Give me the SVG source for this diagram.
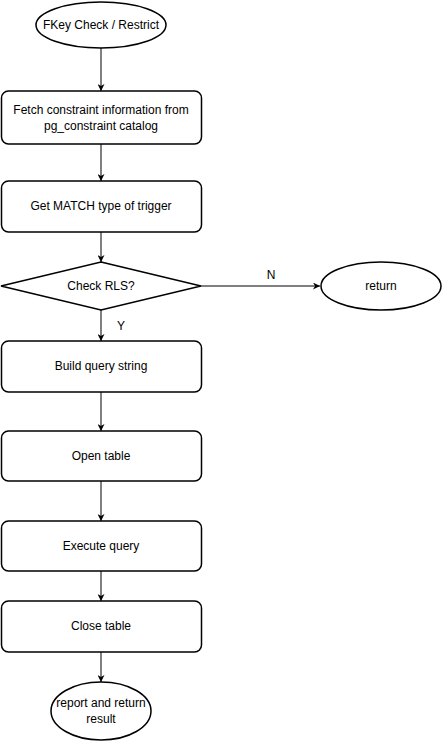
<svg xmlns="http://www.w3.org/2000/svg" width="442" height="742" viewBox="0 0 442 742">
<style>
.s{fill:#fff;stroke:#000;stroke-width:1.5}
.t{font-family:"Liberation Sans",Arial,sans-serif;font-size:12px;fill:#000;text-anchor:middle;dominant-baseline:central}
.c{fill:none;stroke:#000;stroke-width:1}
</style>
<defs>
<marker id="a" viewBox="0 0 10 10" refX="10" refY="5" markerWidth="7" markerHeight="7" markerUnits="userSpaceOnUse" orient="auto">
<path d="M0,0 L10,5 L0,10 L3,5 Z" fill="#000"/>
</marker>
</defs>
<rect width="442" height="742" fill="#fff"/>
<g id="connectors">
<line class="c" x1="101" y1="48" x2="101" y2="91" marker-end="url(#a)"/>
<line class="c" x1="101" y1="144" x2="101" y2="181" marker-end="url(#a)"/>
<line class="c" x1="101" y1="232" x2="101" y2="262" marker-end="url(#a)"/>
<line class="c" x1="201" y1="286" x2="320" y2="286" marker-end="url(#a)"/>
<line class="c" x1="101" y1="310" x2="101" y2="341" marker-end="url(#a)"/>
<line class="c" x1="101" y1="392" x2="101" y2="431" marker-end="url(#a)"/>
<line class="c" x1="101" y1="481" x2="101" y2="521" marker-end="url(#a)"/>
<line class="c" x1="101" y1="571" x2="101" y2="601" marker-end="url(#a)"/>
<line class="c" x1="101" y1="652" x2="101" y2="682" marker-end="url(#a)"/>
<text class="t" x="271" y="275">N</text>
<text class="t" x="121" y="326">Y</text>
</g>
<g id="start">
<ellipse class="s" cx="101" cy="25" rx="65" ry="23"/>
<text class="t" x="101" y="25">FKey Check / Restrict</text>
</g>
<g id="fetch">
<rect class="s" x="1.5" y="91" width="200" height="53" rx="7"/>
<text class="t" x="101" y="110">Fetch constraint information from</text>
<text class="t" x="101" y="126">pg_constraint catalog</text>
</g>
<g id="match">
<rect class="s" x="1.5" y="181" width="200" height="51" rx="7"/>
<text class="t" x="101" y="206">Get MATCH type of trigger</text>
</g>
<g id="rls">
<path class="s" d="M101,262 L201,286 L101,310 L1,286 Z"/>
<text class="t" x="101" y="286">Check RLS?</text>
</g>
<g id="return">
<ellipse class="s" cx="381" cy="286" rx="60" ry="24"/>
<text class="t" x="381" y="286">return</text>
</g>
<g id="build">
<rect class="s" x="1.5" y="341" width="200" height="51" rx="7"/>
<text class="t" x="101" y="366">Build query string</text>
</g>
<g id="open">
<rect class="s" x="1.5" y="431" width="200" height="50" rx="7"/>
<text class="t" x="101" y="456">Open table</text>
</g>
<g id="execute">
<rect class="s" x="1.5" y="521" width="200" height="50" rx="7"/>
<text class="t" x="101" y="546">Execute query</text>
</g>
<g id="close">
<rect class="s" x="1.5" y="601" width="200" height="51" rx="7"/>
<text class="t" x="101" y="626">Close table</text>
</g>
<g id="report">
<ellipse class="s" cx="101" cy="711" rx="50" ry="29"/>
<text class="t" x="101" y="703">report and return</text>
<text class="t" x="101" y="719">result</text>
</g>
</svg>
